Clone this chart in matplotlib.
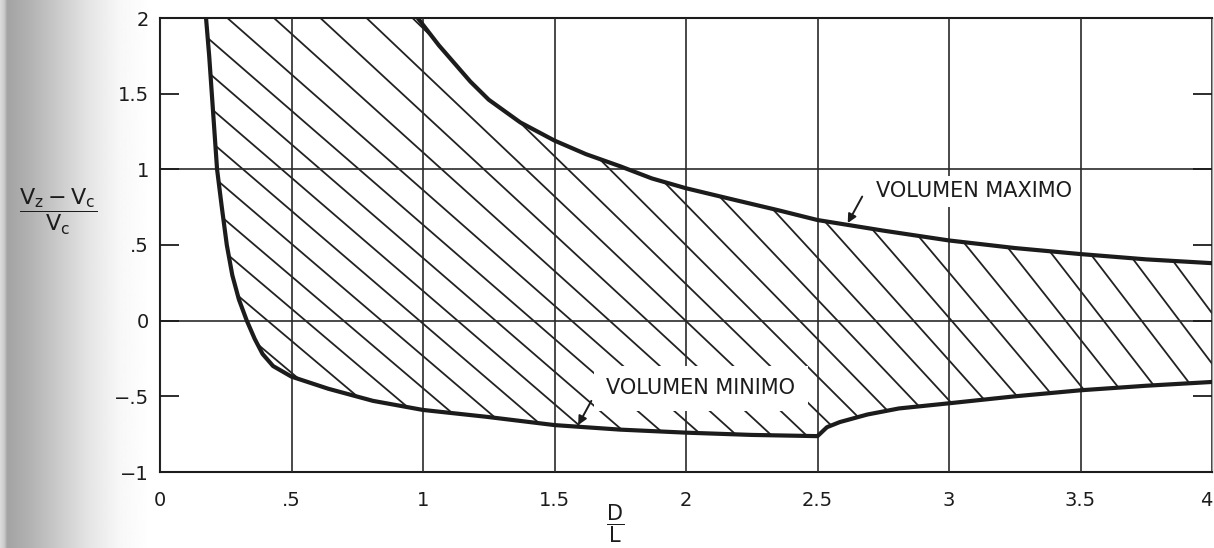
import numpy as np
import matplotlib
matplotlib.use("Agg")
import matplotlib.pyplot as plt
from matplotlib.patches import Polygon
from matplotlib.collections import LineCollection

# ---------------- data ----------------
max_x = [0.98, 1.02, 1.06, 1.11, 1.18, 1.25, 1.37, 1.5, 1.62, 1.75, 1.87, 2.0, 2.18,
         2.35, 2.5, 2.75, 3.0, 3.25, 3.5, 3.75, 4.0]
max_y = [2.0, 1.91, 1.82, 1.72, 1.58, 1.46, 1.31, 1.19, 1.10, 1.02, 0.94, 0.875, 0.80,
         0.73, 0.665, 0.595, 0.53, 0.48, 0.44, 0.405, 0.38]

min_x = [0.175, 0.187, 0.197, 0.207, 0.217, 0.235, 0.254, 0.275, 0.30, 0.33,
         0.36, 0.39, 0.43, 0.50, 0.64, 0.81, 1.0, 1.24, 1.5, 1.75, 2.0, 2.25, 2.5,
         2.536, 2.585, 2.69, 2.81, 3.0, 3.25, 3.5, 3.75, 4.0]
min_y = [2.0, 1.75, 1.5, 1.25, 1.0, 0.75, 0.5, 0.3, 0.14, 0.0,
         -0.12, -0.22, -0.30, -0.37, -0.45, -0.53, -0.59, -0.635, -0.69, -0.72, -0.74,
         -0.755, -0.763, -0.704, -0.67, -0.62, -0.58, -0.546, -0.50, -0.46, -0.43, -0.405]

x_ticks = [0, 0.5, 1, 1.5, 2, 2.5, 3, 3.5, 4]
x_labels = ["0", ".5", "1", "1.5", "2", "2.5", "3", "3.5", "4"]
y_ticks = [-1, -0.5, 0, 0.5, 1, 1.5, 2]
y_labels = ["\u22121", "\u2212.5", "0", ".5", "1", "1.5", "2"]
h_grid = [0, 1]

label_max = "VOLUMEN MAXIMO"
label_min = "VOLUMEN MINIMO"
# -----------------------------------------------------------------

W, H = 1214, 548
fig = plt.figure(figsize=(W / 100, H / 100), dpi=100)
fig.patch.set_facecolor("white")

# scanner shadow on the left edge
gax = fig.add_axes([0, 0, 150 / W, 1], zorder=-5)
gx = np.linspace(0, 150, 300)
gvals = np.interp(gx, [0, 4, 7, 30, 60, 90, 120, 150],
                  [0.86, 0.80, 0.64, 0.70, 0.80, 0.90, 0.97, 1.0])
gax.imshow(np.tile(gvals, (10, 1)), cmap="gray", vmin=0, vmax=1,
           aspect="auto", extent=(0, 1, 0, 1), interpolation="bilinear")
gax.set_axis_off()

ax_l, ax_b, ax_w, ax_h = 160, 76, 1052, 454
ax = fig.add_axes([ax_l / W, ax_b / H, ax_w / W, ax_h / H])
ax.set_facecolor("none")
ax.set_xlim(0, 4)
ax.set_ylim(-1, 2)

ink = "#1c1c1c"

# region between the curves (clip path for the hand-drawn hatching)
verts = list(zip(min_x, min_y)) + [(max_x[-1], max_y[-1])] + list(zip(max_x[::-1], max_y[::-1]))
region = Polygon(verts, closed=True, fill=False, lw=0, edgecolor="none")
ax.add_patch(region)

sx = ax_w / 4.0
sy = ax_h / 3.0
step = 38.0 / sx
segs = []
for c in np.arange(0.12, 4.45, step):
    theta = np.interp(c, [0.2, 1.5, 2.5, 3.5, 4.3], [40, 41, 46, 52, 54])
    m = np.tan(np.radians(theta)) * sx / sy
    y0, y1 = 2.2, -1.2
    segs.append([(c - y0 / m, y0), (c - y1 / m, y1)])
hatch = LineCollection(segs, colors="#222222", linewidths=1.3, zorder=1)
ax.add_collection(hatch)
hatch.set_clip_path(region)

# grid
ax.set_xticks(x_ticks)
ax.set_xticklabels(x_labels)
ax.set_yticks(y_ticks)
ax.set_yticklabels(y_labels)
ax.xaxis.grid(True, color="#2a2a2a", lw=1.2)
ax.set_axisbelow(False)
for yv in h_grid:
    ax.axhline(yv, color="#2a2a2a", lw=1.2, zorder=2.5)

# curves
ax.plot(max_x, max_y, color=ink, lw=3.0, solid_capstyle="round",
        solid_joinstyle="round", zorder=5)
ax.plot(min_x, min_y, color=ink, lw=3.0, solid_capstyle="round",
        solid_joinstyle="round", zorder=5)

# labels with arrows
ax.text(3.095, 0.855, label_max, ha="center", va="center", fontsize=15,
        color=ink, zorder=4,
        bbox=dict(facecolor="white", edgecolor="none", pad=4))
ax.text(2.057, -0.447, label_min, ha="center", va="center", fontsize=15,
        color=ink, zorder=4,
        bbox=dict(facecolor="white", edgecolor="none", pad=9))
arrow = dict(arrowstyle="-|>", color=ink, lw=1.4, mutation_scale=13,
             shrinkA=0, shrinkB=0)
ax.annotate("", xy=(2.615, 0.645), xytext=(2.67, 0.82), arrowprops=arrow, zorder=6)
ax.annotate("", xy=(1.59, -0.69), xytext=(1.64, -0.53), arrowprops=arrow, zorder=6)

# spines / ticks
for side in ["left", "bottom", "top"]:
    ax.spines[side].set_color(ink)
    ax.spines[side].set_linewidth(1.5)
ax.spines["right"].set_color("#9a9a9a")
ax.spines["right"].set_linewidth(1.0)
ax.tick_params(axis="y", direction="in", length=14, width=1.3, color=ink,
               left=True, right=True, labelsize=14, pad=8, labelcolor=ink)
ax.tick_params(axis="x", direction="in", length=0, labelsize=14, pad=14,
               labelcolor=ink)
# last x label sits at the image edge: keep it inside the picture
ax.get_xticklabels()[-1].set_horizontalalignment("right")

# axis titles as fractions
fig.text(58 / W, 1 - 212 / H, r"$\dfrac{\mathrm{V_z - V_c}}{\mathrm{V_c}}$",
         ha="center", va="center", fontsize=16, color=ink)
fig.text(615 / W, 1 - 524 / H, r"$\dfrac{\mathrm{D}}{\mathrm{L}}$",
         ha="center", va="center", fontsize=15, color=ink)

fig.savefig("out.png", dpi=100)
